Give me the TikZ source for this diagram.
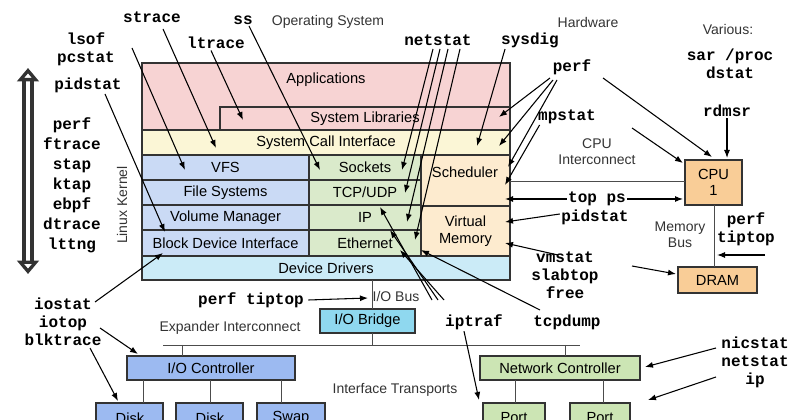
\documentclass[tikz,border=0pt]{standalone}
\usepackage{fontspec}
\setmainfont{Liberation Sans}
\setmonofont{Liberation Mono}
\usetikzlibrary{arrows.meta}
\definecolor{apppink}{HTML}{F7D3D3}
\definecolor{sysyel}{HTML}{FBF6D6}
\definecolor{fsblue}{HTML}{CADAF5}
\definecolor{netgreen}{HTML}{DAEACB}
\definecolor{cpuorng}{HTML}{FDEBCF}
\definecolor{drvcyan}{HTML}{CBEBF7}
\definecolor{hworng}{HTML}{F9CD97}
\definecolor{bridgecy}{HTML}{8FD8EF}
\definecolor{ioblue}{HTML}{9CBAF1}
\definecolor{nicgreen}{HTML}{CCE5B4}
\tikzset{
  layer/.style={draw=black!80, line width=0.8pt},
  tool/.style={font=\ttfamily\bfseries\fontsize{12pt}{13.5pt}\selectfont, align=center, inner sep=1pt},
  note/.style={font=\fontsize{10.5pt}{12pt}\selectfont, align=center, text=black!80, inner sep=1pt},
  probe/.style={-{Latex[length=6pt,width=4.5pt]}, line width=0.8pt},
  bus/.style={black!70, line width=0.7pt}
}
\begin{document}
\begin{tikzpicture}[x=0.75pt,y=-0.75pt,font=\fontsize{11pt}{12.5pt}\selectfont]
\useasboundingbox (0,0) rectangle (800,420);
% software stack
\draw[layer,fill=apppink] (142,63) rectangle (510,130) (326,80) node (apps) {Applications};
\draw[layer,fill=apppink] (220,107) rectangle (510,130) node[midway] (libs) {System Libraries};
\draw[layer,fill=sysyel] (142,130) rectangle (510,155) node[midway] (sci) {System Call Interface};
\draw[layer,fill=fsblue] (142,155) rectangle (309,180) node[midway] (vfs) {VFS};
\draw[layer,fill=fsblue] (142,180) rectangle (309,205) node[midway] (fs) {File Systems};
\draw[layer,fill=fsblue] (142,205) rectangle (309,230) node[midway] (vol) {Volume Manager};
\draw[layer,fill=fsblue] (142,230) rectangle (309,256) node[midway] (bdi) {Block Device Interface};
\draw[layer,fill=netgreen] (309,155) rectangle (421,180) node[midway] (sock) {Sockets};
\draw[layer,fill=netgreen] (309,180) rectangle (421,205) node[midway] (tcp) {TCP/UDP};
\draw[layer,fill=netgreen] (309,205) rectangle (421,230) node[midway] (ipl) {IP};
\draw[layer,fill=netgreen] (309,230) rectangle (421,256) node[midway] (eth) {Ethernet};
\draw[layer,fill=cpuorng] (421,155) rectangle (510,206) (465,172) node (sched) {Scheduler};
\draw[layer,fill=cpuorng] (421,206) rectangle (510,256) node[midway,align=center] (vm) {Virtual\\Memory};
\draw[layer,fill=drvcyan] (142,256) rectangle (510,280) node[midway] (drv) {Device Drivers};
\node[note,rotate=90] (kern) at (122,205) {Linux Kernel};
% hardware
\draw[layer,fill=hworng] (685,160) rectangle (742,205) node[midway,align=center] (cpu) {CPU\\1};
\draw[layer,fill=hworng] (678,267) rectangle (757,293) node[midway] (dram) {DRAM};
\draw[layer,fill=bridgecy] (320,309) rectangle (415,333) node[midway] (bridge) {I/O Bridge};
\draw[layer,fill=ioblue] (127,356) rectangle (295,380) node[midway] (ioc) {I/O Controller};
\draw[layer,fill=ioblue] (96,403) rectangle (163,430) (130,418) node (disk1) {Disk};
\draw[layer,fill=ioblue] (176,403) rectangle (243,430) (210,418) node (disk2) {Disk};
\draw[layer,fill=ioblue] (257,403) rectangle (325,430) (291,418) node (swap) {Swap};
\draw[layer,fill=nicgreen] (480,356) rectangle (640,380) node[midway] (nic) {Network Controller};
\draw[layer,fill=nicgreen] (483,403) rectangle (545,430) (514,418) node (port1) {Port};
\draw[layer,fill=nicgreen] (570,403) rectangle (630,430) (600,418) node (port2) {Port};
% buses
\draw[bus] (510,181) -- (685,181);
\draw[bus] (714,205) -- (714,267);
\draw[bus] (372,280) -- (372,309);
\draw[bus] (372,333) -- (372,345);
\draw[bus] (163,345) -- (580,345);
\draw[bus] (182,345) -- (182,356) (565,345) -- (565,356);
\draw[bus] (143,380) -- (143,403) (210,380) -- (210,403) (281,380) -- (281,403);
\draw[bus] (515,380) -- (515,403) (603,380) -- (603,403);
% area labels
\node[note] (os) at (328,22) {Operating System};
\node[note] (hw) at (588,22) {Hardware};
\node[note] (various) at (728,30) {Various:};
\node[note] (cpuic) at (597,152) {CPU\\Interconnect};
\node[note] (membus) at (680,235) {Memory\\Bus};
\node[note] (iobus) at (396,296) {I/O Bus};
\node[note] (expic) at (230,328) {Expander Interconnect};
\node[note] (ifx) at (395,390) {Interface Transports};
\draw[{Triangle[open,length=10pt,width=16pt]}-{Triangle[open,length=10pt,width=16pt]}, line width=3pt, double=white, double distance=3pt, draw=black!80] (28,68) -- (28,274);
% tools
\node[tool] (strace) at (152,17) {strace};
\node[tool] (lsof) at (86,49) {lsof\\pcstat};
\node[tool] (pidstatL) at (88,85) {pidstat};
\node[tool] (ss) at (243,20) {ss};
\node[tool] (ltrace) at (216,43) {ltrace};
\node[tool] (netstat) at (438,40) {netstat};
\node[tool] (sysdig) at (530,40) {sysdig};
\node[tool] (sar) at (730,64) {sar /proc\\dstat};
\node[tool] (perfR) at (572,67) {perf};
\node[tool] (rdmsr) at (727,111) {rdmsr};
\node[tool] (mpstat) at (567,117) {mpstat};
\node[tool] (topps) at (597,199) {top ps};
\node[tool] (pidstatR) at (595,217) {pidstat};
\node[tool] (tiptopR) at (746,229) {perf\\tiptop};
\node[tool] (vmstat) at (565,275) {vmstat\\slabtop\\free};
\node[tool] (tiptopB) at (251,300) {perf tiptop};
\node[tool] (iptraf) at (474,322) {iptraf};
\node[tool] (tcpdump) at (567,322) {tcpdump};
\node[tool] (iostat) at (63,322) {iostat\\iotop\\blktrace};
\node[tool] (nicstat) at (755,362) {nicstat\\netstat\\ip};
\node[tool,font=\ttfamily\bfseries\fontsize{12pt}{15pt}\selectfont] (tracers) at (72,185) {perf\\ftrace\\stap\\ktap\\ebpf\\dtrace\\lttng};
% probes
\draw[probe] (163,29) -- (216,148);
\draw[probe] (132,48) -- (185,170);
\draw[probe] (ltrace.south) ++(-5,0) -- (243,120);
\draw[probe] (ss.south) ++(6,0) -- (320,170);
\draw[probe] (105,94) -- (165,232);
\draw[probe] (433,49) -- (402,170);
\draw[probe] (440,49) -- (405,193);
\draw[probe] (448,49) -- (407,222);
\draw[probe] (460,49) -- (415,240);
\draw[probe] (sysdig.south) ++(-25,0) -- (477,146);
\draw[probe] (550,78) -- (499,117);
\draw[probe] (553,80) -- (499,146);
\draw[probe] (557,80) -- (508,167);
\draw[probe] (603,78) -- (712,157);
\draw[probe] (mpstat.west) ++(3,8) -- (505,185);
\draw[probe] (632,128) -- (683,163);
\draw[probe] (topps.west) -- (505,199);
\draw[probe] (topps.east) -- (683,199);
\draw[probe] (pidstatR.west) ++(0,-3) -- (505,222);
\draw[probe] (558,255) -- (505,243);
\draw[probe] (632,266) -- (676,274);
\draw[probe] (rdmsr.south) -- (727,158);
\draw[probe] (765,255) -- (717,255);
\draw[probe] (tiptopB.east) ++(3,0) -- (368,298);
\draw[probe] (432,300) -- (380,207);
\draw[probe] (438,300) -- (390,230);
\draw[probe] (444,300) -- (400,250);
\draw[probe] (iptraf.south) ++(-10,0) -- (479,400);
\draw[probe] (540,310) -- (421,250);
\draw[probe] (95,302) -- (163,253);
\draw[probe] (100,328) -- (138,354);
\draw[probe] (90,348) -- (118,401);
\draw[probe] (716,348) -- (645,367);
\draw[probe] (716,377) -- (648,400);
\end{tikzpicture}
\end{document}
